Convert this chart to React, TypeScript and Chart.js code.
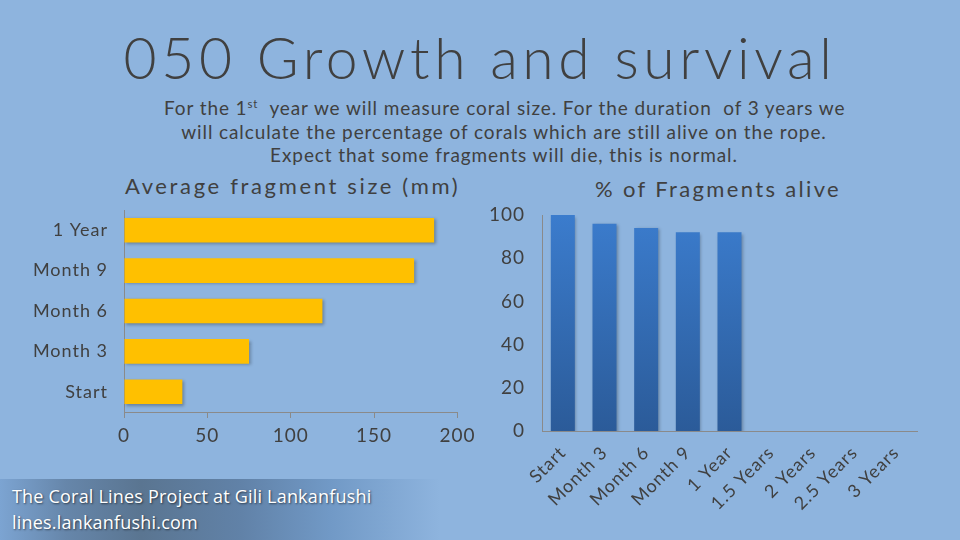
import React, { useEffect, useRef } from "react";
import { Chart, registerables } from "chart.js";

Chart.register(...registerables);

// ---- data ----
const sizeCategories = ["Start", "Month 3", "Month 6", "Month 9", "1 Year"];
const sizeValues = [35, 75, 119, 174, 186];
const sizeTicks = [0, 50, 100, 150, 200];

const aliveCategories = ["Start", "Month 3", "Month 6", "Month 9", "1 Year", "1.5 Years", "2 Years", "2.5 Years", "3 Years"];
const aliveValues: (number | null)[] = [100, 96, 94, 92, 92, null, null, null, null];
const aliveTicks = [0, 20, 40, 60, 80, 100];

const TEXT = "#404040";
const AXIS = "#8a8a8a";
const BG = "#8eb4de";
const FONT = "Lato, 'Open Sans', sans-serif";

const shadowPlugin = {
  id: "barShadow",
  beforeDatasetsDraw(chart: any) {
    const ctx = chart.ctx;
    ctx.save();
    ctx.shadowColor = "rgba(0,0,0,0.28)";
    ctx.shadowBlur = 3;
    ctx.shadowOffsetX = 1.5;
    ctx.shadowOffsetY = 1.5;
  },
  afterDatasetsDraw(chart: any) {
    chart.ctx.restore();
  },
};

const spacingPlugin = {
  id: "letterSpacing",
  beforeDraw(chart: any) {
    (chart.ctx as any).letterSpacing = "1px";
  },
};

export default function App() {
  const leftRef = useRef<HTMLCanvasElement | null>(null);
  const rightRef = useRef<HTMLCanvasElement | null>(null);

  useEffect(() => {
    document.body.style.margin = "0";
    document.body.style.background = BG;
    let charts: Chart[] = [];
    let cancelled = false;
    const make = () => {
      if (cancelled || !leftRef.current || !rightRef.current) return;
      const left = new Chart(leftRef.current, {
        type: "bar",
        data: {
          labels: sizeCategories,
          datasets: [
            {
              data: sizeValues,
              backgroundColor: "#ffc000",
              barPercentage: 0.8,
              categoryPercentage: 0.76,
            },
          ],
        },
        plugins: [spacingPlugin, shadowPlugin],
        options: {
          indexAxis: "y",
          animation: false,
          responsive: false,
          layout: { padding: { left: 0, right: 21, top: 40, bottom: 0 } },
          plugins: {
            legend: { display: false },
            tooltip: { enabled: false },
          },
          scales: {
            x: {
              min: 0,
              max: 200,
              afterBuildTicks: (s: any) => {
                s.ticks = sizeTicks.map((v) => ({ value: v }));
              },
              afterFit: (s: any) => {
                s.height = 48;
              },
              grid: { drawOnChartArea: false, drawTicks: true, tickLength: 6, color: AXIS },
              border: { display: true, color: AXIS },
              ticks: { color: TEXT, font: { family: FONT, size: 19 }, padding: 6 },
            },
            y: {
              reverse: true,
              afterFit: (s: any) => {
                s.width = 124;
              },
              grid: { display: false, drawTicks: false },
              border: { display: true, color: AXIS },
              ticks: { color: TEXT, font: { family: FONT, size: 18 }, padding: 16 },
            },
          },
        },
      } as any);

      const right = new Chart(rightRef.current, {
        type: "bar",
        data: {
          labels: aliveCategories,
          datasets: [
            {
              data: aliveValues,
              backgroundColor: (c: any) => {
                const area = c.chart.chartArea;
                if (!area) return "#3470b8";
                const g = c.chart.ctx.createLinearGradient(0, area.bottom, 0, area.top);
                g.addColorStop(0, "#2b5b99");
                g.addColorStop(1, "#3b7ccd");
                return g;
              },
              barPercentage: 0.8,
              categoryPercentage: 0.72,
            },
          ],
        },
        plugins: [spacingPlugin, shadowPlugin],
        options: {
          animation: false,
          responsive: false,
          layout: { padding: { left: 0, right: 43, top: 45, bottom: 0 } },
          plugins: {
            legend: { display: false },
            tooltip: { enabled: false },
          },
          scales: {
            x: {
              afterFit: (s: any) => {
                s.height = 109;
              },
              grid: { display: false, drawTicks: false },
              border: { display: true, color: AXIS },
              ticks: {
                color: TEXT,
                font: { family: FONT, size: 18 },
                maxRotation: 45,
                minRotation: 45,
                autoSkip: false,
                padding: 11,
              },
            },
            y: {
              min: 0,
              max: 100,
              afterBuildTicks: (s: any) => {
                s.ticks = aliveTicks.map((v) => ({ value: v }));
              },
              afterFit: (s: any) => {
                s.width = 62;
              },
              grid: { display: false, drawTicks: false },
              border: { display: true, color: AXIS },
              ticks: { color: TEXT, font: { family: FONT, size: 19 }, padding: 17 },
            },
          },
        },
      } as any);
      charts = [left, right];
    };
    const fontsReady = (document as any).fonts
      ? Promise.all([
          (document as any).fonts.load("18px Lato"),
          (document as any).fonts.load("22px Lato"),
        ]).catch(() => null)
      : Promise.resolve(null);
    fontsReady.then(make);
    return () => {
      cancelled = true;
      charts.forEach((c) => c.destroy());
    };
  }, []);

  return (
    <div
      style={{
        position: "fixed",
        left: 0,
        top: 0,
        width: 960,
        height: 540,
        background: BG,
        overflow: "hidden",
        fontFamily: FONT,
        color: TEXT,
      }}
    >
      <div
        style={{
          position: "absolute",
          left: 0,
          top: 22,
          width: 960,
          textAlign: "center",
          fontSize: 57,
          fontWeight: 300,
          lineHeight: "70px",
          letterSpacing: "4.6px",
          whiteSpace: "nowrap",
        }}
      >
        050 Growth and survival
      </div>
      <div
        style={{
          position: "absolute",
          left: 164,
          top: 96,
          width: 680,
          textAlign: "center",
          fontSize: 19,
          lineHeight: "23.5px",
          letterSpacing: "0.9px",
          whiteSpace: "pre",
        }}
      >
        {"For the 1"}
        <sup style={{ fontSize: "60%", lineHeight: 0 }}>st</sup>
        {"  year we will measure coral size. For the duration  of 3 years we\n"}
        {"will calculate the percentage of corals which are still alive on the rope.\n"}
        {"Expect that some fragments will die, this is normal."}
      </div>
      <div
        style={{
          position: "absolute",
          left: 125,
          top: 173,
          fontSize: 22,
          lineHeight: "26px",
          letterSpacing: "2.65px",
          whiteSpace: "nowrap",
        }}
      >
        Average fragment size (mm)
      </div>
      <div
        style={{
          position: "absolute",
          left: 595,
          top: 176,
          fontSize: 22,
          lineHeight: "26px",
          letterSpacing: "2.35px",
          whiteSpace: "nowrap",
        }}
      >
        % of Fragments alive
      </div>
      <canvas
        ref={leftRef}
        width={480}
        height={290}
        style={{ position: "absolute", left: 0, top: 170, width: 480, height: 290 }}
      />
      <canvas
        ref={rightRef}
        width={480}
        height={370}
        style={{ position: "absolute", left: 480, top: 170, width: 480, height: 370 }}
      />
      <div
        style={{
          position: "absolute",
          left: 0,
          top: 479,
          width: 440,
          height: 61,
          background:
            "linear-gradient(to right, #7ca4d2 0%, #6686aa 15%, #5a7591 32%, #6182a8 55%, #7199c6 75%, rgba(142,180,222,0) 100%)",
        }}
      />
      <div
        style={{
          position: "absolute",
          left: 12,
          top: 483,
          fontFamily: "'Open Sans', sans-serif",
          fontSize: 18,
          lineHeight: "26px",
          letterSpacing: "0.2px",
          color: "#ffffff",
          textShadow: "1px 1px 2px rgba(0,0,0,0.55)",
          whiteSpace: "nowrap",
        }}
      >
        <div>The Coral Lines Project at Gili Lankanfushi</div>
        <div>lines.lankanfushi.com</div>
      </div>
    </div>
  );
}
